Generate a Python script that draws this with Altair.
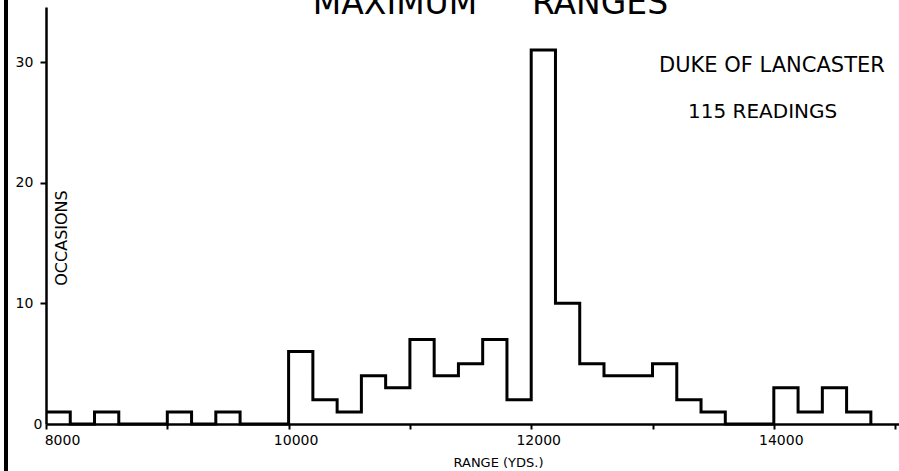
import altair as alt
import pandas as pd

# Histogram of maximum ranges (bin starts in yards, 200-yd bins; last entry closes the outline)
bin_start = [8000, 8200, 8400, 8600, 8800, 9000, 9200, 9400, 9600, 9800,
             10000, 10200, 10400, 10600, 10800, 11000, 11200, 11400, 11600, 11800,
             12000, 12200, 12400, 12600, 12800, 13000, 13200, 13400, 13600, 13800,
             14000, 14200, 14400, 14600, 14800]
occasions = [1, 0, 1, 0, 0, 1, 0, 1, 0, 0,
             6, 2, 1, 4, 3, 7, 4, 5, 7, 2,
             31, 10, 5, 4, 4, 5, 2, 1, 0, 0,
             3, 1, 3, 1, 0]

x_ticks = [8000, 9000, 10000, 11000, 12000, 13000, 14000, 15000]
y_ticks = [0, 10, 20, 30]

title_words = ["MAXIMUM", "RANGES"]
note_lines = ["DUKE OF LANCASTER", "115 READINGS"]
x_title = "RANGE (YDS.)"
y_title = "OCCASIONS"

df = pd.DataFrame({"range": bin_start, "occasions": occasions})
one = pd.DataFrame({"k": [0]})

FONT = "DejaVu Sans"
W, H = 853, 417

x_enc = alt.X(
    "range:Q",
    scale=alt.Scale(domain=[8000, 15032], nice=False, zero=False),
    axis=alt.Axis(
        values=x_ticks,
        labelExpr="datum.value % 2000 == 0 ? format(datum.value, 'd') : ''",
        labelFontSize=14,
        labelColor="black",
        labelFont=FONT,
        labelPadding=4,
        labelFlush=False,
        labelOffset={"condition": {"test": "datum.value == 8000", "value": 16}, "value": 7},
        tickSize=5,
        tickWidth=2,
        tickColor="black",
        domainColor="black",
        domainWidth=2.5,
        grid=False,
        title=x_title,
        titleFont=FONT,
        titleFontSize=13,
        titleFontWeight="normal",
        titleColor="black",
        titleX=452,
        titleY=42,
        titleAlign="center",
        titleBaseline="alphabetic",
    ),
)

y_enc = alt.Y(
    "occasions:Q",
    scale=alt.Scale(domain=[0, 34.56], nice=False),
    axis=alt.Axis(
        values=y_ticks,
        format="d",
        labelFontSize=14,
        labelColor="black",
        labelFont=FONT,
        labelAlign="left",
        labelBaseline="middle",
        labelFlush=False,
        labelPadding={"condition": {"test": "datum.value == 0", "value": 13}, "value": 25},
        tickSize={"condition": {"test": "datum.value == 0", "value": 0}, "value": 6},
        tickWidth=2,
        tickColor="black",
        domainColor="black",
        domainWidth=2.5,
        grid=False,
        title=None,
    ),
)

hist = alt.Chart(df).mark_line(
    interpolate="step-after", color="black", strokeWidth=3, strokeJoin="miter"
).encode(x=x_enc, y=y_enc)

t1 = alt.Chart(one).mark_text(
    text=title_words[0], font=FONT, fontSize=33, align="center", baseline="alphabetic", color="black"
).encode(x=alt.value(395 - 46), y=alt.value(14 - 7))
t2 = alt.Chart(one).mark_text(
    text=title_words[1], font=FONT, fontSize=33, align="center", baseline="alphabetic", color="black"
).encode(x=alt.value(600 - 46), y=alt.value(14 - 7))

n1 = alt.Chart(one).mark_text(
    text=note_lines[0], font=FONT, fontSize=21, align="left", baseline="alphabetic", color="black"
).encode(x=alt.value(659 - 46), y=alt.value(72 - 7))
n2 = alt.Chart(one).mark_text(
    text=note_lines[1], font=FONT, fontSize=20, align="left", baseline="alphabetic", color="black"
).encode(x=alt.value(688 - 46), y=alt.value(118 - 7))

ylab = alt.Chart(one).mark_text(
    text=y_title, font=FONT, fontSize=16, align="center", baseline="middle", angle=270, color="black"
).encode(x=alt.value(62 - 46), y=alt.value(238 - 7))

border = alt.Chart(one).mark_rule(color="black", strokeWidth=4).encode(
    x=alt.value(-40), y=alt.value(-7), y2=alt.value(464)
)

chart = alt.layer(hist, t1, t2, n1, n2, ylab, border).properties(
    width=W,
    height=H,
    autosize="none",
    padding={"left": 46, "top": 7, "right": 0, "bottom": 47},
    background="white",
).configure_view(strokeWidth=0)

chart.save("out.html", embed_options={"renderer": "svg", "actions": False})
